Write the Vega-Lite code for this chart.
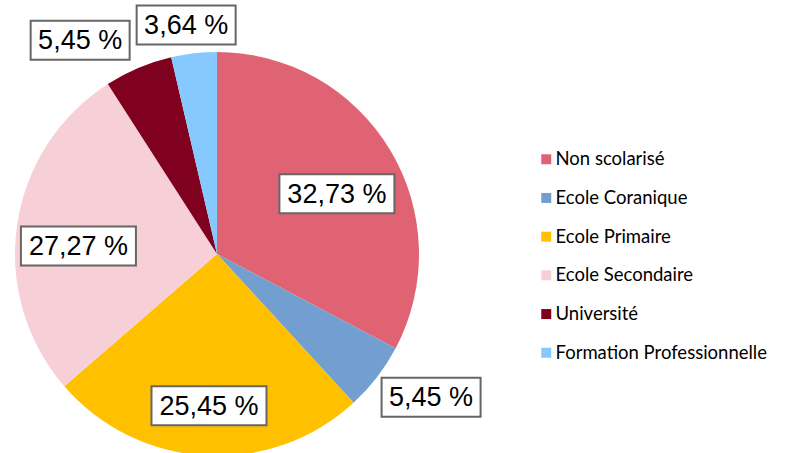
{
  "$schema": "https://vega.github.io/schema/vega-lite/v6.json",
  "width": 404,
  "height": 404,
  "autosize": {"type": "none"},
  "padding": {"left": 15, "top": 52, "right": 370, "bottom": 0},
  "background": "white",
  "config": {"view": {"stroke": null}},
  "data": {
    "values": [
      {"categorie": "Non scolarisé", "valeur": 32.73, "label": "32,73 %", "ordre": 1},
      {"categorie": "Ecole Coranique", "valeur": 5.45, "label": "5,45 %", "ordre": 2},
      {"categorie": "Ecole Primaire", "valeur": 25.45, "label": "25,45 %", "ordre": 3},
      {"categorie": "Ecole Secondaire", "valeur": 27.27, "label": "27,27 %", "ordre": 4},
      {"categorie": "Université", "valeur": 5.45, "label": "5,45 %", "ordre": 5},
      {"categorie": "Formation Professionnelle", "valeur": 3.64, "label": "3,64 %", "ordre": 6}
    ]
  },
  "transform": [
    {"joinaggregate": [{"op": "sum", "field": "valeur", "as": "total"}]},
    {"window": [{"op": "sum", "field": "valeur", "as": "cum"}], "sort": [{"field": "ordre"}], "frame": [null, 0]},
    {"calculate": "(datum.cum - datum.valeur / 2) / datum.total * 2 * PI", "as": "mid"},
    {"calculate": "sin(datum.mid)", "as": "sx"},
    {"calculate": "cos(datum.mid)", "as": "cy"},
    {"calculate": "datum.valeur >= 10 ? 140 * datum.sx : 211 * datum.sx + 49.5 * clamp(1.2 * datum.sx, -1, 1)", "as": "bx"},
    {"calculate": "datum.valeur >= 10 ? 140 * datum.cy - 12 : 211 * datum.cy + 19.5 * clamp(1.2 * datum.cy, -1, 1)", "as": "by"},
    {"window": [
      {"op": "lead", "field": "bx", "as": "nx"},
      {"op": "lead", "field": "by", "as": "ny"},
      {"op": "lead", "field": "valeur", "as": "nv"}
    ], "sort": [{"field": "ordre"}]},
    {"calculate": "datum.valeur < 10 && isValid(datum.nv) && datum.nv < 10 && abs(datum.by - datum.ny) < 39 && datum.bx < datum.nx && datum.bx + 106 > datum.nx ? datum.nx - 106 : datum.bx", "as": "lx"}
  ],
  "layer": [
    {
      "mark": {"type": "arc"},
      "encoding": {
        "theta": {"field": "valeur", "type": "quantitative", "stack": true},
        "order": {"field": "ordre", "type": "quantitative"},
        "color": {
          "field": "categorie",
          "type": "nominal",
          "scale": {
            "domain": ["Non scolarisé", "Ecole Coranique", "Ecole Primaire", "Ecole Secondaire", "Université", "Formation Professionnelle"],
            "range": ["#E06374", "#729FCF", "#FFC000", "#F7CFD6", "#800020", "#86C9FF"]
          },
          "legend": {
            "title": null,
            "orient": "none",
            "legendX": 522,
            "legendY": 98,
            "symbolType": "square",
            "symbolSize": 100,
            "symbolStrokeWidth": 0,
            "labelFont": "Lato",
            "labelFontSize": 18.5,
            "labelColor": "#000000",
            "labelOffset": 0,
            "labelLimit": 400,
            "rowPadding": 19.7,
            "padding": 0
          }
        }
      }
    },
    {
      "transform": [{"filter": "datum.valeur >= 10"}],
      "mark": {"type": "point", "shape": "M-1,-0.339L1,-0.339L1,0.339L-1,0.339Z", "size": 13225, "filled": true, "fill": "white", "stroke": "#666666", "strokeWidth": 2, "opacity": 1},
      "encoding": {
        "x": {"field": "lx", "type": "quantitative", "scale": {"domain": [-202, 202], "nice": false, "zero": false}, "axis": null},
        "y": {"field": "by", "type": "quantitative", "scale": {"domain": [-202, 202], "nice": false, "zero": false}, "axis": null}
      }
    },
    {
      "transform": [{"filter": "datum.valeur < 10"}],
      "mark": {"type": "point", "shape": "M-1,-0.394L1,-0.394L1,0.394L-1,0.394Z", "size": 9801, "filled": true, "fill": "white", "stroke": "#666666", "strokeWidth": 2, "opacity": 1},
      "encoding": {
        "x": {"field": "lx", "type": "quantitative", "scale": {"domain": [-202, 202], "nice": false, "zero": false}, "axis": null},
        "y": {"field": "by", "type": "quantitative", "scale": {"domain": [-202, 202], "nice": false, "zero": false}, "axis": null}
      }
    },
    {
      "mark": {"type": "text", "font": "Liberation Sans", "fontSize": 27, "color": "#000000", "align": "center", "baseline": "middle", "dy": 1},
      "encoding": {
        "x": {"field": "lx", "type": "quantitative", "scale": {"domain": [-202, 202], "nice": false, "zero": false}, "axis": null},
        "y": {"field": "by", "type": "quantitative", "scale": {"domain": [-202, 202], "nice": false, "zero": false}, "axis": null},
        "text": {"field": "label", "type": "nominal"}
      }
    }
  ]
}
